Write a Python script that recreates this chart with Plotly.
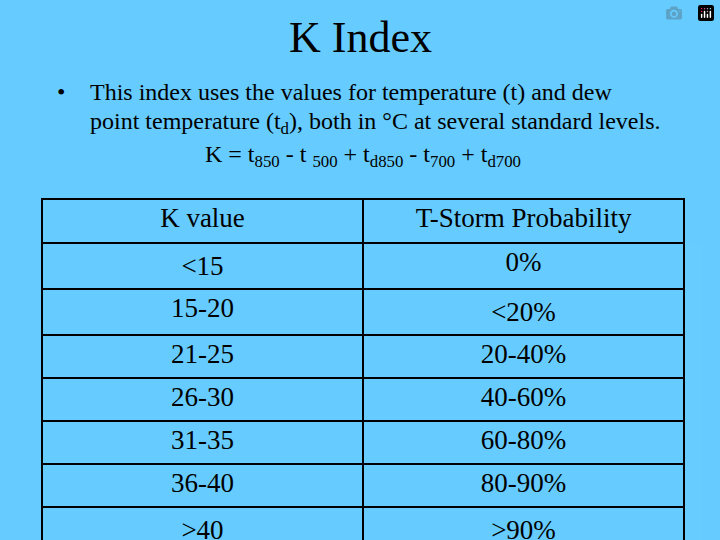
import plotly.graph_objects as go

headers = ["K value", "T-Storm Probability"]
k_values = ["<15", "15-20", "21-25", "26-30", "31-35", "36-40", ">40"]
probabilities = ["0%", "<20%", "20-40%", "40-60%", "60-80%", "80-90%", ">90%"]

bg = "#66CCFF"
font = "Liberation Serif, Times New Roman, serif"

fig = go.Figure(go.Table(
    domain=dict(x=[42/720, 684/720], y=[0, 1-199/540]),
    columnwidth=[1, 1],
    header=dict(values=headers, fill_color=bg, line=dict(color="black", width=2),
                font=dict(family=font, size=27, color="black"), height=44, align="center"),
    cells=dict(values=[k_values, probabilities], fill_color=bg, line=dict(color="black", width=2),
               font=dict(family=font, size=27, color="black"), height=43, align="center"),
))

fig.update_layout(
    width=720, height=540, paper_bgcolor=bg, plot_bgcolor=bg,
    margin=dict(l=0, r=0, t=0, b=0),
    font=dict(family=font, color="black"),
    annotations=[
        dict(text="K Index", x=0.5, y=1-37/540, xref="paper", yref="paper", showarrow=False,
             font=dict(size=44), xanchor="center", yanchor="middle"),
        dict(text="•", x=55/720, y=1-92/540, xref="paper", yref="paper", showarrow=False,
             font=dict(size=24), xanchor="left", yanchor="middle"),
        dict(text="This index uses the values for temperature (t) and dew", x=88/720, y=1-92/540,
             xref="paper", yref="paper", showarrow=False, font=dict(size=24), xanchor="left", yanchor="middle"),
        dict(text="point temperature (t<sub>d</sub>), both in °C at several standard levels.", x=88/720, y=1-123/540,
             xref="paper", yref="paper", showarrow=False, font=dict(size=24), xanchor="left", yanchor="middle"),
        dict(text="K = t<sub>850</sub> - t <sub>500</sub> + t<sub>d850</sub> - t<sub>700</sub> + t<sub>d700</sub>",
             x=203/720, y=1-156/540, xref="paper", yref="paper", showarrow=False,
             font=dict(size=24), xanchor="left", yanchor="middle"),
    ],
)

fig.write_html("out.html", post_script="document.body.style.margin='0';")
